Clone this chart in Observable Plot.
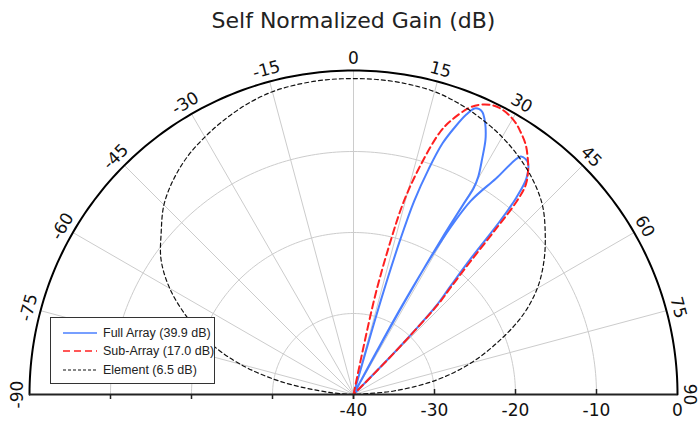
<!DOCTYPE html>
<html><head><meta charset="utf-8">
<script src="https://cdn.jsdelivr.net/npm/d3@7"></script>
<script src="https://cdn.jsdelivr.net/npm/@observablehq/plot@0.6"></script>
<style>
body{margin:0;background:#fff;}
#wrap{position:relative;width:699px;height:422px;overflow:hidden;background:#fff;}
#title{position:absolute;left:0;top:0;width:699px;height:42px;line-height:42px;text-align:center;font-family:"DejaVu Sans";font-size:22px;color:#222;padding-left:8px;box-sizing:border-box;}
#chart{position:absolute;left:0;top:40px;}
#legend{position:absolute;left:50px;top:317px;width:163px;height:65px;border:1.6px solid #333;background:#fff;font-family:"Liberation Sans",Arial,sans-serif;font-size:12.5px;color:#222;}
.row{position:absolute;left:0;height:16px;line-height:16px;}
.row svg{position:absolute;left:11px;top:0;}
.row span{position:absolute;left:52px;top:0;white-space:nowrap;}
</style></head><body>
<div id="wrap"><div id="title">Self Normalized Gain (dB)</div><div id="chart"></div><div id="legend"></div></div>
<script>
// ---- data (angle in degrees, gain in dB) ----
const angleTicks = [-90,-75,-60,-45,-30,-15,0,15,30,45,60,75,90];
const angleTickLabels = ["-90","-75","-60","-45","-30","-15","0","15","30","45","60","75","90"];
const radialTicks = [-40,-30,-20,-10,0];
const radialTickLabels = ["-40","-30","-20","-10","0"];

const elementAngle = [-90,-85,-80,-75,-70,-65,-60,-55,-50,-45,-40,-35,-30,-25,-20,-15,-10,-5,0,5,10,15,20,25,30,35,40,45,50,55,60,65,70,75,80,85,90];
const elementGain  = [-40,-37,-31,-25.5,-21,-17.3,-13.8,-11,-9,-6.9,-5.4,-4.2,-3.3,-2.5,-1.8,-1.3,-1.1,-1.0,-1.0,-1.0,-1.1,-1.3,-1.8,-2.5,-3.3,-4.3,-5.5,-7,-9.1,-11.3,-13.8,-17,-21,-25,-29.5,-35,-40];

const subArrayAngle = [11.5,12.3,13.5,14.6,16.3,18.3,19.7,21.9,23.5,25.3,27,29,31,32.4,34.5,36.4,38,39.4,40.2,40.7,41.3,42.2,43.1,43.8,44.5,45];
const subArrayGain  = [-40,-28,-21,-15.4,-10.5,-5.8,-4.0,-1.9,-1.0,-0.45,-0.3,-0.5,-1.0,-1.55,-2.5,-3.75,-5,-6.5,-8.8,-13,-18,-22,-24.5,-29,-34,-40];

const fullArrayAngle = [16,16.2,16.8,17.4,18.43,19.52,20.83,21.98,22.93,23.8,24.6,25.5,26.3,27.4,28.6,29.8,30.2,30,29.5,28.9,28.6,28.5,
                        28,28.2,28.7,29.8,31.2,33.4,35.1,36.2,37,38.65,39.6,40.2,40.8,41.8,43,43.7,44.3,44.8];
const fullArrayGain  = [-40,-28,-20,-15,-10.7,-7.1,-4.6,-2.7,-1.65,-1.5,-1.7,-2.4,-3.2,-4.6,-6.8,-9,-10.5,-13,-18,-27,-34,-40,
                        -40,-34,-26.9,-18,-12.1,-8.1,-4.1,-4.0,-4.2,-5.8,-8.5,-12,-18,-22,-25,-29,-34,-40];

const seriesNames = ["Full Array (39.9 dB)","Sub-Array (17.0 dB)","Element (6.5 dB)"];
const seriesColors = ["#4a7fff","#ff2020","#111111"];

// ---- polar helpers ----
const floorDb = -40;
const toXY = (a, g) => { const r = Math.max(0, g - floorDb); const t = a * Math.PI / 180; return {x: r * Math.sin(t), y: r * Math.cos(t)}; };
const series = (angles, gains) => angles.map((a, i) => toXY(a, gains[i]));
const arc = (v) => d3.range(-90, 90.001, 1).map(a => ({...toXY(a, v), ring: v}));

const full = series(fullArrayAngle, fullArrayGain);
const sub = series(subArrayAngle, subArrayGain);
const elem = series(elementAngle, elementGain);
const rings = radialTicks.filter(v => v > -40 && v < 0).flatMap(arc);
const outer = arc(0);
const spokes = angleTicks.filter(a => Math.abs(a) < 90).map(a => toXY(a, 0));
const angLabels = angleTicks.map((a, i) => ({...toXY(a, 1.5), label: angleTickLabels[i], rot: a}));
const radLabels = radialTicks.map((v, i) => ({x: v - floorDb, y: 0, label: radialTickLabels[i]}));
const pxPerUnit = 324 / 40;
const tickLen = 5 / pxPerUnit;
const upTicks = radialTicks.filter(v => v > -40 && v < 0).map(v => v - floorDb);
const downTicks = radialTicks.filter(v => v < 0).map(v => -(v - floorDb)).concat([0]);

const chart = Plot.plot({
  width: 699, height: 382,
  marginLeft: 29, marginRight: 22, marginTop: 30, marginBottom: 28,
  x: {domain: [-40, 40], axis: null},
  y: {domain: [0, 40], axis: null},
  marks: [
    Plot.line(rings, {x: "x", y: "y", z: "ring", stroke: "#cccccc", strokeWidth: 1}),
    Plot.link(spokes, {x1: () => 0, y1: () => 0, x2: "x", y2: "y", stroke: "#cccccc", strokeWidth: 1}),
    Plot.line(full, {x: "x", y: "y", stroke: seriesColors[0], strokeWidth: 2, curve: "catmull-rom"}),
    Plot.line(sub, {x: "x", y: "y", stroke: seriesColors[1], strokeWidth: 2, strokeDasharray: "7,4", curve: "catmull-rom"}),
    Plot.line(elem, {x: "x", y: "y", stroke: seriesColors[2], strokeWidth: 1.2, strokeDasharray: "4,3", curve: "catmull-rom"}),
    Plot.line(outer, {x: "x", y: "y", stroke: "#000", strokeWidth: 2}),
    Plot.ruleY([0], {x1: -40, x2: 40, stroke: "#222", strokeWidth: 2}),
    Plot.ruleX(upTicks, {y1: 0, y2: tickLen, stroke: "#222", strokeWidth: 1.5}),
    Plot.ruleX(downTicks, {y1: 0, y2: -tickLen, stroke: "#222", strokeWidth: 1.5}),
    Plot.text(angLabels, {x: "x", y: "y", text: "label", rotate: "rot", fontSize: 17, fontFamily: "DejaVu Sans", fill: "#111"}),
    Plot.text(radLabels, {x: "x", y: "y", text: "label", dy: 16, fontSize: 17, fontFamily: "DejaVu Sans", fill: "#111"})
  ]
});
document.getElementById("chart").appendChild(chart);

// ---- legend ----
const legend = document.getElementById("legend");
const dashes = ["", "7,4", "3,2"];
const widths = [1.5, 1.5, 1.2];
const rowTops = [7, 25, 44];
seriesNames.forEach((name, i) => {
  const row = document.createElement("div");
  row.className = "row";
  row.style.top = rowTops[i] + "px";
  row.innerHTML = `<svg width="36" height="16"><line x1="1" x2="35" y1="8" y2="8" stroke="${seriesColors[i]}" stroke-width="${widths[i]}" ${dashes[i] ? `stroke-dasharray="${dashes[i]}"` : ""}/></svg><span>${name}</span>`;
  legend.appendChild(row);
});
</script>
</body></html>
